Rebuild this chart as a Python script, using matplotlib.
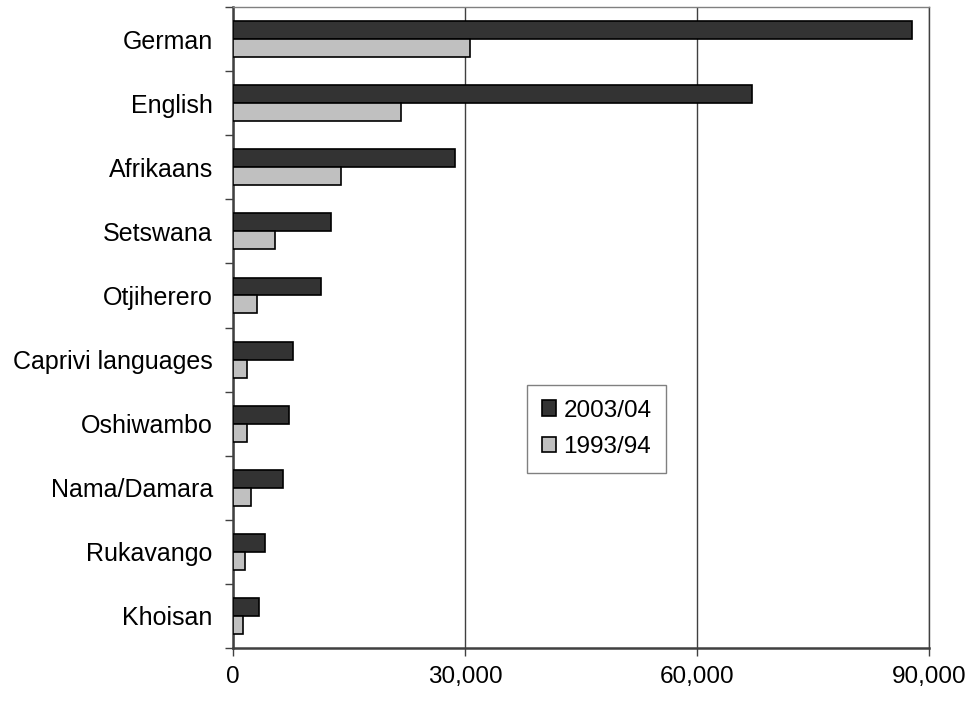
import matplotlib
matplotlib.use('Agg')
import matplotlib.pyplot as plt
import numpy as np

plt.rcParams['font.family'] = ['Liberation Sans', 'DejaVu Sans']

# datos
languages = ['German', 'English', 'Afrikaans', 'Setswana', 'Otjiherero',
             'Caprivi languages', 'Oshiwambo', 'Nama/Damara', 'Rukavango', 'Khoisan']
y2003 = [87800, 67100, 28700, 12700, 11400, 7800, 7300, 6500, 4200, 3400]
y1993 = [30600, 21700, 14000, 5400, 3100, 1850, 1850, 2300, 1550, 1300]
xticks = [0, 30000, 60000, 90000]
xlabels = ['0', '30,000', '60,000', '90,000']

fig = plt.figure(figsize=(9.76, 7.04), dpi=100)
ax = fig.add_axes([0.2387, 0.0795, 0.9518 - 0.2387, 0.990 - 0.0795])

pos = np.arange(len(languages))
h = 0.28
ax.barh(pos - h / 2, y2003, height=h, color='#333333', edgecolor='black',
        linewidth=1.2, label='2003/04', zorder=3)
ax.barh(pos + h / 2, y1993, height=h, color='#c0c0c0', edgecolor='black',
        linewidth=1.2, label='1993/94', zorder=3)

ax.set_xlim(0, 90000)
ax.set_ylim(len(languages) - 0.5, -0.5)

ax.set_xticks(xticks)
ax.set_xticklabels(xlabels, fontsize=17.5)
ax.tick_params(axis='x', length=6, width=1, color='#404040', pad=7)

# ticks entre categorias, etiquetas en el centro
ax.set_yticks(np.arange(len(languages) + 1) - 0.5)
ax.set_yticklabels([])
ax.set_yticks(pos, minor=True)
ax.set_yticklabels(languages, minor=True, fontsize=18)
ax.tick_params(axis='y', which='major', length=6, width=1, color='#404040')
ax.tick_params(axis='y', which='minor', length=0, pad=14.5)

ax.grid(axis='x', color='#404040', linewidth=1, zorder=0)

for s in ['left', 'bottom']:
    ax.spines[s].set_color('#404040')
    ax.spines[s].set_linewidth(1.8)
ax.spines['top'].set_color('#808080')
ax.spines['top'].set_linewidth(1)
ax.spines['right'].set_color('#404040')
ax.spines['right'].set_linewidth(1)

leg = ax.legend(loc='upper left', bbox_to_anchor=(0.4224, 0.4103), fontsize=17.5,
                fancybox=False, framealpha=1, edgecolor='#808080',
                handlelength=0.6, handleheight=0.6, handletextpad=0.3,
                labelspacing=0.6, borderpad=0.6, borderaxespad=0)
leg.get_frame().set_linewidth(1)

plt.savefig('out.png', dpi=100)
